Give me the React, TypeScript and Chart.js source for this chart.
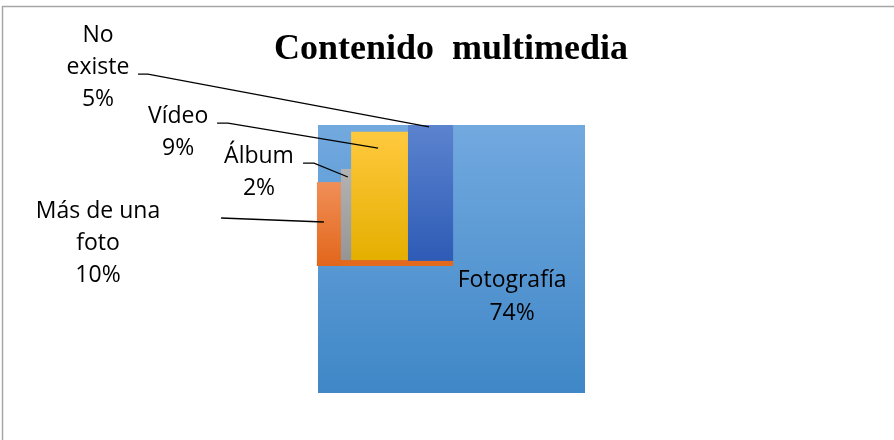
import { useEffect, useRef } from "react";
import { Chart, registerables } from "chart.js";

Chart.register(...registerables);

const chartTitle = "Contenido  multimedia";
const categories = ["Fotografía", "Más de una foto", "Álbum", "Vídeo", "No existe"];
const percentages = [74, 10, 2, 9, 5];
// label text lines (category name wrapped as in the original)
const labelNames = [["Fotografía"], ["Más de una", "foto"], ["Álbum"], ["Vídeo"], ["No", "existe"]];

// extent of each block in value space (0–100 on both axes)
const blockX0 = [0, -0.4, 8.6, 12.4, 33.7];
const blockX1 = [100, 8.6, 12.4, 33.7, 50.6];
const blockY0 = [0, 47.4, 49.6, 49.6, 49.3];
const blockY1 = [100, 78.7, 83.6, 97.5, 100];
// base strip under the small blocks (part of "Más de una foto")
const baseX = [-0.4, 50.6];
const baseY = [47.4, 49.6];

// label anchor (centre x, first baseline y) in value space
const labelX = [72.7, -82.4, -22.1, -52.4, -82.4];
const labelY = [39.6, 65.3, 85.8, 100.7, 131.0];

// leader lines: [x, y] points in value space (null = no leader)
const leaders: (number[][] | null)[] = [
  null,
  [[-36.3, 65.3], [2.2, 63.8]],
  [[-5.6, 85.8], [-1.5, 85.8], [11.2, 80.6]],
  [[-37.8, 100.7], [-33.7, 100.7], [22.5, 91.4]],
  [[-67.4, 119.0], [-63.7, 119.0], [41.6, 99.3]],
];

const topColors = ["#72a9df", "#f08f58", "#b3b3b3", "#ffc93f", "#5b83ce"];
const bottomColors = ["#3f87c7", "#e2661a", "#959595", "#e5af00", "#2e5bb6"];
const baseColor = "#e4691c";

const blocksPlugin = {
  id: "blocks",
  beforeDatasetsDraw(chart: any) {
    const { ctx, scales } = chart;
    const xs = scales.x;
    const ys = scales.y;
    const px = (v: number) => xs.getPixelForValue(v);
    const py = (v: number) => ys.getPixelForValue(v);
    ctx.save();

    // frame
    ctx.strokeStyle = "#a6a6a6";
    ctx.lineWidth = 1.5;
    ctx.beginPath();
    ctx.moveTo(2.5, 460);
    ctx.lineTo(2.5, 6.5);
    ctx.lineTo(900, 6.5);
    ctx.stroke();

    const fillBlock = (i: number, x0: number, x1: number, y0: number, y1: number) => {
      const l = px(x0), r = px(x1), t = py(y1), b = py(y0);
      const g = ctx.createLinearGradient(0, t, 0, b);
      g.addColorStop(0, topColors[i]);
      g.addColorStop(1, bottomColors[i]);
      ctx.fillStyle = g;
      ctx.fillRect(l, t, r - l, b - t);
    };

    fillBlock(0, blockX0[0], blockX1[0], blockY0[0], blockY1[0]);
    // base strip
    ctx.fillStyle = baseColor;
    ctx.fillRect(px(baseX[0]), py(baseY[1]), px(baseX[1]) - px(baseX[0]), py(baseY[0]) - py(baseY[1]));
    for (let i = 1; i < categories.length; i++) {
      fillBlock(i, blockX0[i], blockX1[i], blockY0[i], blockY1[i]);
    }

    // leaders
    ctx.strokeStyle = "#000000";
    ctx.lineWidth = 1.3;
    leaders.forEach((pts) => {
      if (!pts) return;
      ctx.beginPath();
      pts.forEach((p, k) => {
        if (k === 0) ctx.moveTo(px(p[0]), py(p[1]));
        else ctx.lineTo(px(p[0]), py(p[1]));
      });
      ctx.stroke();
    });

    // labels
    ctx.fillStyle = "#000000";
    ctx.textAlign = "center";
    ctx.textBaseline = "alphabetic";
    ctx.font = "23px 'Open Sans'";
    const lh = 32;
    categories.forEach((_, i) => {
      const lines = [...labelNames[i], percentages[i] + "%"];
      const cx = px(labelX[i]);
      const by = py(labelY[i]);
      lines.forEach((s, k) => ctx.fillText(s, cx, by + k * (i === 0 ? 33 : lh)));
    });

    // title
    ctx.font = "bold 36px 'Liberation Serif'";
    ctx.fillText(chartTitle, 451, 58.5);
    ctx.restore();
  },
};

export default function App() {
  const ref = useRef<HTMLCanvasElement | null>(null);
  useEffect(() => {
    if (!ref.current) return;
    const chart = new Chart(ref.current, {
      type: "scatter",
      data: { datasets: [] },
      options: {
        animation: false,
        responsive: false,
        events: [],
        layout: { padding: { left: 318, right: 309, top: 125, bottom: 47 } },
        plugins: { legend: { display: false }, title: { display: false }, tooltip: { enabled: false } },
        scales: {
          x: { type: "linear", min: 0, max: 100, display: false },
          y: { type: "linear", min: 0, max: 100, display: false },
        },
      },
      plugins: [blocksPlugin],
    });
    return () => chart.destroy();
  }, []);
  return (
    <div style={{ position: "fixed", left: 0, top: 0, width: 894, height: 440, background: "#ffffff" }}>
      <canvas ref={ref} width={894} height={440} style={{ display: "block" }} />
    </div>
  );
}
